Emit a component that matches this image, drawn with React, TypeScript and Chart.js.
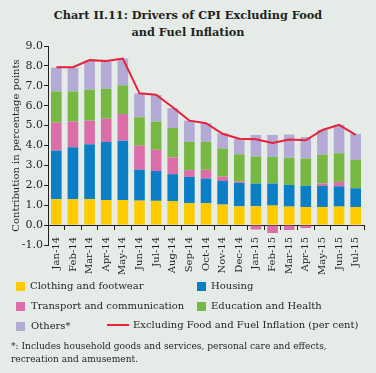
import React, { useEffect, useRef } from "react";
import { Chart, registerables } from "chart.js";

Chart.register(...registerables);

const months = [
  "Jan-14", "Feb-14", "Mar-14", "Apr-14", "May-14", "Jun-14", "Jul-14", "Aug-14", "Sep-14", "Oct-14",
  "Nov-14", "Dec-14", "Jan-15", "Feb-15", "Mar-15", "Apr-15", "May-15", "Jun-15", "Jul-15",
];
const clothing = [1.30, 1.30, 1.30, 1.26, 1.26, 1.23, 1.22, 1.21, 1.10, 1.10, 1.03, 0.94, 0.95, 0.98, 0.93, 0.91, 0.91, 0.93, 0.91];
const housing = [2.44, 2.61, 2.76, 2.92, 2.98, 1.55, 1.50, 1.35, 1.32, 1.24, 1.19, 1.18, 1.13, 1.11, 1.09, 1.06, 1.06, 1.02, 0.94];
const transport = [1.41, 1.29, 1.19, 1.17, 1.34, 1.21, 1.07, 0.84, 0.34, 0.44, 0.22, 0.08, -0.22, -0.40, -0.25, -0.15, 0.12, 0.22, -0.05];
const education = [1.57, 1.52, 1.55, 1.50, 1.44, 1.43, 1.41, 1.48, 1.42, 1.40, 1.40, 1.36, 1.36, 1.34, 1.36, 1.38, 1.45, 1.44, 1.43];
const others = [1.19, 1.19, 1.47, 1.38, 1.35, 1.20, 1.34, 1.00, 1.07, 0.94, 0.77, 0.77, 1.09, 1.10, 1.17, 1.08, 1.24, 1.43, 1.30];
const coreInflation = [7.93, 7.93, 8.29, 8.25, 8.37, 6.62, 6.55, 5.92, 5.25, 5.12, 4.59, 4.34, 4.31, 4.13, 4.30, 4.26, 4.78, 5.04, 4.53];

const C_CLOTH = "#fecb00";
const C_HOUSE = "#0a7fc6";
const C_TRANS = "#db6ea9";
const C_EDU = "#77b843";
const C_OTH = "#b3abd5";
const C_LINE = "#e8213b";
const TEXT = "#231f20";
const BG = "#e5ece8";
const FONT = "'DejaVu Serif', serif";

// lift the month labels so they start just under the bars, as in the original
const liftLabels = {
  id: "liftLabels",
  afterLayout(chart: any) {
    const s = chart.scales.x;
    s.top -= 8;
    s.bottom -= 8;
  },
};

export default function App() {
  const ref = useRef<HTMLCanvasElement>(null);

  useEffect(() => {
    const bar = (label: string, data: number[], color: string) => ({
      type: "bar" as const,
      label,
      data,
      backgroundColor: color,
      borderWidth: 0,
      stack: "bars",
      order: 1,
      categoryPercentage: 0.8,
      barPercentage: 0.8,
    });
    const chart = new Chart(ref.current!, {
      type: "bar",
      data: {
        labels: months,
        datasets: [
          {
            type: "line" as const,
            label: "Excluding Food and Fuel Inflation (per cent)",
            data: coreInflation,
            borderColor: C_LINE,
            backgroundColor: C_LINE,
            borderWidth: 2,
            pointRadius: 0,
            tension: 0,
            stack: "line",
            order: 0,
          } as any,
          bar("Clothing and footwear", clothing, C_CLOTH),
          bar("Housing", housing, C_HOUSE),
          bar("Transport and communication", transport, C_TRANS),
          bar("Education and Health", education, C_EDU),
          bar("Others*", others, C_OTH),
        ],
      },
      plugins: [liftLabels],
      options: {
        responsive: false,
        animation: false,
        layout: { padding: { top: 46, right: 12, left: 0, bottom: 0 } },
        plugins: {
          legend: { display: false },
          tooltip: { enabled: false },
        },
        scales: {
          x: {
            stacked: true,
            grid: { display: false, drawTicks: false },
            border: { display: false },
            ticks: {
              minRotation: 90,
              maxRotation: 90,
              autoSkip: false,
              padding: 0,
              color: TEXT,
              font: { family: FONT, size: 10 },
            },
            afterFit: (s: any) => {
              s.height = 45;
            },
          },
          x2: {
            type: "category",
            labels: months,
            position: { y: 0 },
            offset: true,
            grid: { drawOnChartArea: false, drawTicks: true, tickLength: 4, offset: true, color: TEXT },
            border: { display: true, color: TEXT, width: 1 },
            ticks: { display: false },
            afterFit: (s: any) => {
              s.height = 0;
            },
          } as any,
          y: {
            stacked: true,
            min: -1,
            max: 9,
            ticks: {
              stepSize: 1,
              padding: 1,
              color: TEXT,
              font: { family: FONT, size: 11 },
              callback: (v: any) => Number(v).toFixed(1),
            },
            grid: { drawOnChartArea: false, drawTicks: true, tickLength: 4, color: TEXT },
            border: { display: true, color: TEXT, width: 1 },
            title: {
              display: true,
              text: "Contribution in percentage points",
              color: TEXT,
              font: { family: FONT, size: 10 },
              padding: { top: 10, bottom: 0 },
            },
            afterFit: (s: any) => {
              s.width = 48;
            },
          },
        },
      } as any,
    });
    return () => chart.destroy();
  }, []);

  const marker = (left: number, top: number, color: string) => (
    <div style={{ position: "absolute", left, top, width: 9, height: 9, background: color }} />
  );
  const text = (left: number, top: number, s: string, size = 10) => (
    <div
      style={{
        position: "absolute",
        left,
        top,
        fontFamily: FONT,
        fontSize: size,
        lineHeight: "12px",
        color: TEXT,
        whiteSpace: "nowrap",
      }}
    >
      {s}
    </div>
  );

  return (
    <div
      style={{
        position: "absolute",
        left: 0,
        top: 0,
        width: 376,
        height: 373,
        background: BG,
        overflow: "hidden",
      }}
    >
      <div
        style={{
          position: "absolute",
          left: 0,
          top: 7,
          width: 376,
          textAlign: "center",
          fontFamily: FONT,
          fontWeight: "bold",
          fontSize: 11.3,
          lineHeight: "16.5px",
          color: TEXT,
        }}
      >
        <div>Chart II.11: Drivers of CPI Excluding Food</div>
        <div>and Fuel Inflation</div>
      </div>
      <canvas ref={ref} width={376} height={290} style={{ position: "absolute", left: 0, top: 0 }} />
      {marker(16, 282, C_CLOTH)}
      {text(30, 280, "Clothing and footwear")}
      {marker(197, 282, C_HOUSE)}
      {text(211, 280, "Housing")}
      {marker(16, 302, C_TRANS)}
      {text(31, 300, "Transport and communication")}
      {marker(197, 302, C_EDU)}
      {text(211, 300, "Education and Health")}
      {marker(16, 322, C_OTH)}
      {text(31, 320, "Others*")}
      <div style={{ position: "absolute", left: 107, top: 324, width: 22, height: 2, background: C_LINE }} />
      {text(133, 319, "Excluding Food and Fuel Inflation (per cent)")}
      <div
        style={{
          position: "absolute",
          left: 11,
          top: 340,
          fontFamily: FONT,
          fontSize: 9.1,
          lineHeight: "12.6px",
          color: TEXT,
          whiteSpace: "nowrap",
        }}
      >
        <div>*: Includes household goods and services, personal care and effects,</div>
        <div>recreation and amusement.</div>
      </div>
    </div>
  );
}
